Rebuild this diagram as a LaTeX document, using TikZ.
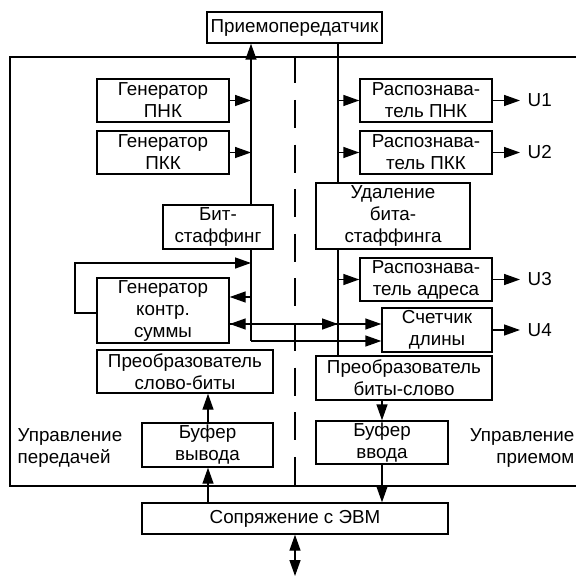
\documentclass[tikz,border=0pt]{standalone}
\usepackage{fontspec}
\setmainfont{Liberation Sans}
\usetikzlibrary{arrows.meta}
\begin{document}
\begin{tikzpicture}[x=1pt,y=-1pt,
  line width=1.4pt,
  box/.style={draw, rectangle, inner sep=0pt, align=center, font=\fontsize{18.8}{22}\selectfont},
  lbl/.style={inner sep=0pt, font=\fontsize{18.8}{22}\selectfont},
  arr/.style={-{Triangle[length=16pt,width=11pt]}},
  darr/.style={{Triangle[length=16pt,width=11pt]}-{Triangle[length=16pt,width=11pt]}}]
\useasboundingbox (0,0) rectangle (576,577);
% frame
\draw (576,57) -- (10,57) -- (10,486) -- (576,486);
\draw[dash pattern=on 28pt off 16.6pt, dash phase=1.6pt] (295,57) -- (295,486);
% boxes
\node[box, minimum width=175, minimum height=31] (trx) at (294.5,27.5) {Приемопередатчик};
\node[box, minimum width=132, minimum height=43] (gpnk) at (163,100.5) {Генератор\\ПНК};
\node[box, minimum width=132, minimum height=43] (gpkk) at (163,152.5) {Генератор\\ПКК};
\node[box, minimum width=110, minimum height=44] (bs) at (218,227) {Бит-\\стаффинг};
\node[box, minimum width=132, minimum height=65] (gcs) at (163,310.5) {Генератор\\контр.\\суммы};
\node[box, minimum width=176, minimum height=43] (psb) at (185,371.5) {Преобразователь\\слово-биты};
\node[box, minimum width=131, minimum height=44] (bvyv) at (207.5,445) {Буфер\\вывода};
\node[box, minimum width=306, minimum height=31] (sopr) at (295,518.5) {Сопряжение с ЭВМ};
\node[box, minimum width=132, minimum height=43] (rpnk) at (426,100.5) {Распознава-\\тель ПНК};
\node[box, minimum width=132, minimum height=43] (rpkk) at (426,152.5) {Распознава-\\тель ПКК};
\node[box, minimum width=154, minimum height=66] (ud) at (393,216) {Удаление\\бита-\\стаффинга};
\node[box, minimum width=132, minimum height=43] (radr) at (426,279.5) {Распознава-\\тель адреса};
\node[box, minimum width=110, minimum height=44] (sch) at (437,330) {Счетчик\\длины};
\node[box, minimum width=176, minimum height=44] (pbs) at (404,378) {Преобразователь\\биты-слово};
\node[box, minimum width=132, minimum height=43] (bvv) at (382,442.5) {Буфер\\ввода};
% labels
\node[lbl, anchor=west, align=left] (lt) at (17,448) {Управление\\передачей};
\node[lbl, anchor=east, align=right] (rt) at (575,448) {Управление\\приемом};
\node[lbl, anchor=west] (u1) at (527,100.5) {U1};
\node[lbl, anchor=west] (u2) at (527,152.5) {U2};
\node[lbl, anchor=west] (u3) at (527,279.5) {U3};
\node[lbl, anchor=west] (u4) at (527,330) {U4};
% coordinates
\coordinate (L) at (251,0);
\coordinate (R) at (338,0);
\coordinate (Lbot) at (251,341);
\coordinate (y297) at (251,297);
\coordinate (y324) at (338,324);
\coordinate (loopA) at (97,313);
\coordinate (loopB) at (75,313);
\coordinate (loopC) at (75,263);
\coordinate (loopD) at (251,263);
\coordinate (o1) at (520,100.5);
\coordinate (o2) at (520,152.5);
\coordinate (o3) at (520,279.5);
\coordinate (o4) at (520,330);
\coordinate (ext) at (295,576);
% left bus
\draw[arr] (bs.north -| L) -- (trx.south -| L);
\draw (Lbot) -- (bs.south -| L);
\draw[arr] (gpnk.east) -- (gpnk.east -| L);
\draw[arr] (gpkk.east) -- (gpkk.east -| L);
\draw[arr] (y297) -- (y297 -| gcs.east);
\draw[arr] (loopA) -- (loopB) -- (loopC) -- (loopD);
\draw[arr] (y324) -- (y324 -| gcs.east);
\draw[arr] (y324 -| gcs.east) -- (y324);
\draw[arr] (y324) -- (y324 -| sch.west);
\draw[arr] (Lbot) -- (Lbot -| sch.west);
% right bus
\draw (trx.south -| R) -- (ud.north -| R);
\draw (ud.south -| R) -- (pbs.north -| R);
\draw[arr] (rpnk.west -| R) -- (rpnk.west);
\draw[arr] (rpkk.west -| R) -- (rpkk.west);
\draw[arr] (radr.west -| R) -- (radr.west);
% outputs
\draw[arr] (rpnk.east) -- (o1);
\draw[arr] (rpkk.east) -- (o2);
\draw[arr] (radr.east) -- (o3);
\draw[arr] (sch.east) -- (o4);
% vertical chains
\draw[arr] (bvyv.north -| 208,0) -- (psb.south -| 208,0);
\draw[arr] (sopr.north -| 208,0) -- (bvyv.south -| 208,0);
\draw[arr] (pbs.south -| bvv.north) -- (bvv.north);
\draw[arr] (bvv.south) -- (sopr.north -| bvv.south);
\draw[darr] (sopr.south) -- (ext);
\end{tikzpicture}
\end{document}
